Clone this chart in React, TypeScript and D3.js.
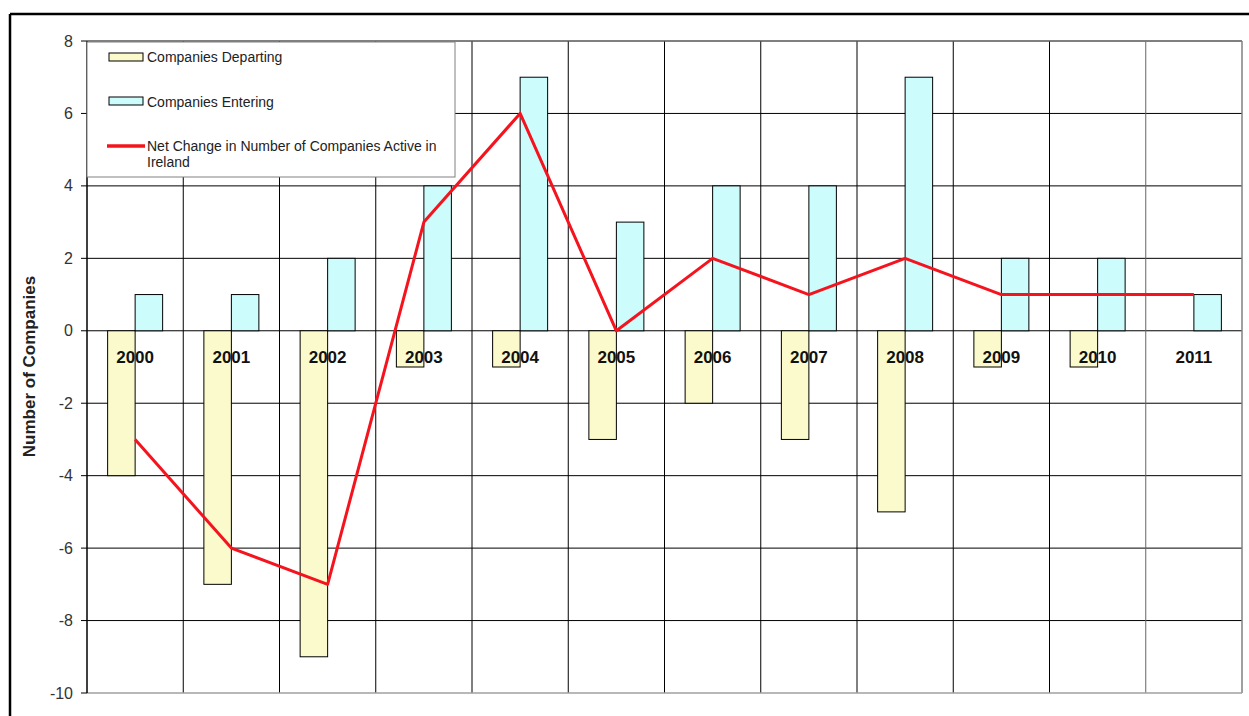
import React from "react";
import * as d3 from "d3";

const years = ["2000","2001","2002","2003","2004","2005","2006","2007","2008","2009","2010","2011"];
const departing = [-4,-7,-9,-1,-1,-3,-2,-3,-5,-1,-1,0];
const entering = [1,1,2,4,7,3,4,4,7,2,2,1];
const netChange = [-3,-6,-7,3,6,0,2,1,2,1,1,1];
const yTicks = [8,6,4,2,0,-2,-4,-6,-8,-10];
const legendLabels = ["Companies Departing","Companies Entering","Net Change in Number of Companies Active in","Ireland"];

export default function App() {
  const W = 1249, H = 716;
  const left = 87, right = 1242, top = 41, bottom = 693;
  const x = d3.scaleBand<string>().domain(years).range([left, right]).paddingInner(0).paddingOuter(0);
  const y = d3.scaleLinear().domain([-10, 8]).range([bottom, top]);
  const bw = 27.5;
  const cx = (yr: string) => (x(yr) as number) + x.bandwidth() / 2;
  const line = d3.line<number>().x((_, i) => cx(years[i])).y(d => y(d));
  const font = "Arial, 'Liberation Sans', sans-serif";
  return (
    <div style={{ position: "absolute", left: 0, top: 0 }}>
      <svg width={W} height={H} style={{ display: "block", background: "#fff" }}>
        {/* outer border */}
        <line x1={10} y1={14} x2={W} y2={14} stroke="#000" strokeWidth={2.5} />
        <line x1={10} y1={14} x2={10} y2={H} stroke="#000" strokeWidth={2.5} />
        {/* horizontal grid */}
        {yTicks.filter(t => t !== -10).map(t => (
          <line key={"h" + t} x1={left} x2={right} y1={y(t)} y2={y(t)} stroke="#000" strokeWidth={1} />
        ))}
        {/* vertical grid */}
        {years.slice(1).map(yr => (
          <line key={"v" + yr} x1={x(yr)} x2={x(yr)} y1={top} y2={bottom} stroke={yr === "2011" ? "#666" : "#000"} strokeWidth={1} />
        ))}
        <line x1={right} x2={right} y1={top} y2={bottom} stroke="#808080" strokeWidth={1.5} />
        <line x1={left} x2={right} y1={bottom} y2={bottom} stroke="#a0a0a0" strokeWidth={1.5} />
        <line x1={left} x2={right} y1={top} y2={top} stroke="#808080" strokeWidth={1} />
        {/* y axis */}
        <line x1={left} x2={left} y1={top} y2={bottom} stroke="#000" strokeWidth={1.5} />
        {yTicks.map(t => (
          <g key={"t" + t}>
            <line x1={left - 6} x2={left} y1={y(t)} y2={y(t)} stroke="#000" />
            <text x={73} y={y(t)} dy="0.35em" textAnchor="end" fontFamily={font} fontSize={16} fill="#333">{t}</text>
          </g>
        ))}
        <text transform={`translate(35,${(273 + 460) / 2}) rotate(-90)`} textAnchor="middle" fontFamily={font} fontSize={17} fontWeight="bold" fill="#222">Number of Companies</text>
        {/* bars */}
        {years.map((yr, i) => (
          <g key={"b" + yr}>
            {departing[i] !== 0 && (
              <rect x={cx(yr) - bw} y={y(0)} width={bw} height={y(departing[i]) - y(0)} fill="#FAFACC" stroke="#000" strokeWidth={1} />
            )}
            <rect x={cx(yr)} y={y(entering[i])} width={bw} height={y(0) - y(entering[i])} fill="#CCFCFC" stroke="#000" strokeWidth={1} />
          </g>
        ))}
        {/* net line */}
        <path d={line(netChange) as string} fill="none" stroke="#F5141E" strokeWidth={3} strokeLinejoin="round" />
        {/* category labels */}
        {years.map(yr => (
          <text key={"l" + yr} x={cx(yr)} y={363} textAnchor="middle" fontFamily={font} fontSize={17} fontWeight="bold" fill="#111">{yr}</text>
        ))}
        {/* legend */}
        <rect x={87} y={42} width={368} height={135} fill="#fff" stroke="#808080" strokeWidth={1} />
        <rect x={109} y={53} width={34} height={8} fill="#FAFACC" stroke="#000" strokeWidth={1} />
        <text x={147} y={62} fontFamily={font} fontSize={14} fill="#222">{legendLabels[0]}</text>
        <rect x={109} y={97} width={34} height={8} fill="#CCFCFC" stroke="#000" strokeWidth={1} />
        <text x={147} y={107} fontFamily={font} fontSize={14} fill="#222">{legendLabels[1]}</text>
        <line x1={107} x2={145} y1={146} y2={146} stroke="#F5141E" strokeWidth={3.5} />
        <text x={147} y={151} fontFamily={font} fontSize={14} fill="#222">{legendLabels[2]}</text>
        <text x={147} y={167} fontFamily={font} fontSize={14} fill="#222">{legendLabels[3]}</text>
      </svg>
    </div>
  );
}
